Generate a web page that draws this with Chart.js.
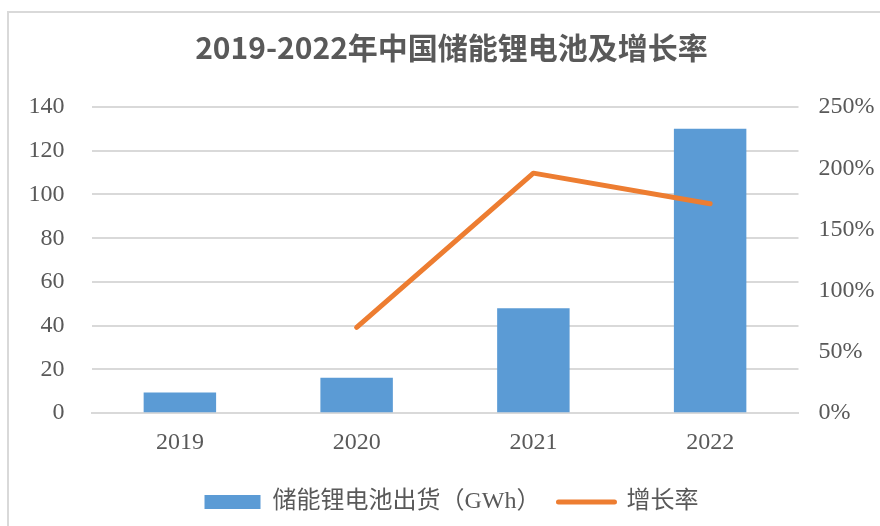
<!DOCTYPE html>
<html>
<head>
<meta charset="utf-8">
<script src="https://cdn.jsdelivr.net/npm/chart.js@4"></script>
<style>
  html, body { margin: 0; padding: 0; background: #fff; overflow: hidden; }
  #wrap { position: relative; width: 880px; height: 526px; overflow: hidden; }
  #frame {
    position: absolute; left: 7px; top: 11px; width: 900px; height: 600px;
    border-left: 2px solid #d9d9d9; border-top: 2px solid #d9d9d9;
  }
  #chart { position: absolute; left: 0; top: 0; }
</style>
</head>
<body>
<div id="wrap">
  <div id="frame"></div>
  <canvas id="chart" width="880" height="524"></canvas>
</div>
<script>
// data
const years = ['2019', '2020', '2021', '2022'];
const shipments = [9.5, 16.2, 48, 130];      // GWh
const growthRate = [null, 70, 196, 171];     // %
const titleText = '2019-2022年中国储能锂电池及增长率';
const barLabel = '储能锂电池出货（GWh）';
const lineLabel = '增长率';

const gray = '#595959';
const gridColor = '#d9d9d9';
const blue = '#5b9bd5';
const orange = '#ed7d31';

Chart.defaults.font.family = "'Liberation Serif', 'Noto Sans CJK SC', serif";
Chart.defaults.color = gray;

const ctx = document.getElementById('chart').getContext('2d');

new Chart(ctx, {
  type: 'bar',
  data: {
    labels: years,
    datasets: [
      {
        type: 'line',
        label: lineLabel,
        data: growthRate,
        yAxisID: 'y1',
        borderColor: orange,
        backgroundColor: orange,
        borderWidth: 5,
        borderCapStyle: 'round',
        borderJoinStyle: 'round',
        pointRadius: 0,
        pointStyle: 'line',
        order: 0,
      },
      {
        type: 'bar',
        label: barLabel,
        data: shipments,
        yAxisID: 'y',
        backgroundColor: blue,
        borderWidth: 0,
        barPercentage: 1,
        categoryPercentage: 0.41,
        order: 1,
      },
    ],
  },
  options: {
    responsive: false,
    animation: false,
    devicePixelRatio: 1,
    layout: { padding: { left: 28, right: 5, top: 0, bottom: 0 } },
    plugins: {
      title: {
        display: true,
        text: titleText,
        color: gray,
        font: { family: "'Noto Sans CJK SC', sans-serif", size: 30, weight: 'bold' },
        padding: { top: 30, bottom: 41 },
      },
      legend: {
        position: 'bottom',
        reverse: true,
        labels: {
          color: gray,
          font: { size: 24 },
          usePointStyle: true,
          pointStyleWidth: 56,
          boxHeight: 14,
          padding: 18,
          generateLabels(chart) {
            const items = Chart.defaults.plugins.legend.labels.generateLabels(chart);
            items.forEach((it) => {
              if (it.datasetIndex === 1) {
                it.pointStyle = 'rect';
                it.lineWidth = 0;
              } else {
                it.pointStyle = 'line';
                it.lineWidth = 5;
                it.lineCap = 'round';
                it.strokeStyle = orange;
              }
            });
            return items;
          },
        },
      },
      tooltip: { enabled: false },
    },
    scales: {
      x: {
        grid: { display: false, drawTicks: false },
        border: { color: gridColor, width: 2 },
        ticks: { color: gray, font: { size: 24 }, padding: 15 },
      },
      y: {
        position: 'left',
        min: 0,
        max: 140,
        ticks: { stepSize: 20, color: gray, font: { size: 24 }, padding: 27 },
        grid: { color: gridColor, lineWidth: 2, drawTicks: false },
        border: { display: false },
        afterFit(scale) { scale.width = 63.5; },
      },
      y1: {
        position: 'right',
        min: 0,
        max: 250,
        ticks: {
          stepSize: 50,
          color: gray,
          font: { size: 24 },
          padding: 20,
          callback: (v) => v + '%',
        },
        grid: { display: false, drawTicks: false },
        border: { display: false },
        afterFit(scale) { scale.width = 76.5; },
      },
    },
  },
});
</script>
</body>
</html>
